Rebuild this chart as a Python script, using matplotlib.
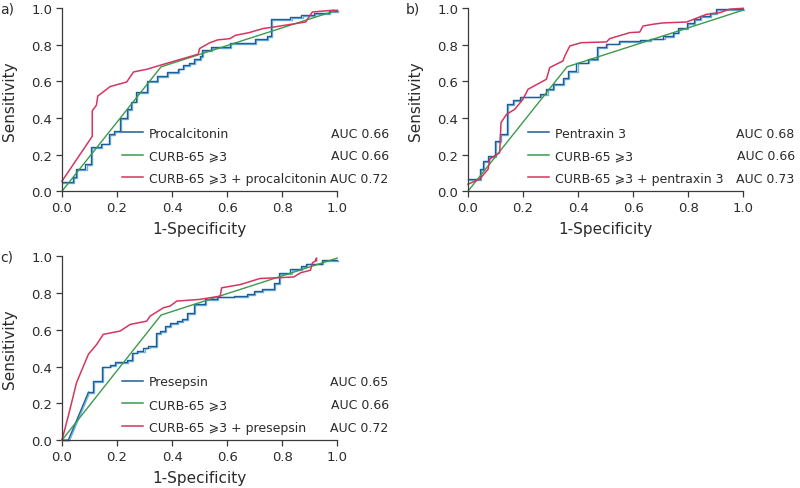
import matplotlib
matplotlib.use("Agg")
import matplotlib.pyplot as plt
import matplotlib.transforms as mtransforms

plt.rcParams["font.family"] = ["DejaVu Sans"]

# CURB-65 >=3 (binary, same in all panels)
curb_x = [0.0, 0.36, 1.0]
curb_y = [0.0, 0.68, 0.99]

# a) procalcitonin
pct_x = [0, 0.04, 0.05, 0.085, 0.105, 0.14, 0.17, 0.19, 0.21, 0.235, 0.25, 0.27,
         0.31, 0.345, 0.38, 0.42, 0.44, 0.46, 0.48, 0.50, 0.51, 0.54, 0.61, 0.70,
         0.745, 0.76, 0.83, 0.87, 0.915, 0.97, 1.0]
pct_y = [0.05, 0.075, 0.12, 0.15, 0.24, 0.26, 0.31, 0.33, 0.40, 0.45, 0.49, 0.54,
         0.60, 0.63, 0.65, 0.67, 0.69, 0.70, 0.72, 0.74, 0.77, 0.79, 0.81, 0.83,
         0.85, 0.94, 0.95, 0.965, 0.975, 0.985, 0.99]
pct_comb_x = [0, 0.11, 0.11, 0.125, 0.13, 0.175, 0.235, 0.26, 0.31, 0.36, 0.495,
              0.50, 0.535, 0.565, 0.61, 0.63, 0.68, 0.73, 0.78, 0.885, 0.91, 0.99, 1.0]
pct_comb_y = [0.055, 0.30, 0.44, 0.47, 0.52, 0.572, 0.597, 0.652, 0.667, 0.69, 0.749,
              0.78, 0.81, 0.827, 0.834, 0.852, 0.867, 0.889, 0.90, 0.925, 0.98, 0.99, 0.985]

# b) pentraxin 3
ptx_x = [0, 0.042, 0.055, 0.073, 0.097, 0.115, 0.14, 0.164, 0.188, 0.26, 0.285,
         0.31, 0.345, 0.364, 0.394, 0.436, 0.467, 0.50, 0.55, 0.625, 0.66, 0.71,
         0.745, 0.763, 0.794, 0.82, 0.842, 0.88, 0.90, 1.0]
ptx_y = [0.066, 0.12, 0.166, 0.19, 0.275, 0.31, 0.475, 0.50, 0.517, 0.53, 0.557,
         0.585, 0.62, 0.657, 0.703, 0.72, 0.79, 0.807, 0.82, 0.825, 0.834, 0.85,
         0.867, 0.894, 0.92, 0.94, 0.958, 0.976, 0.995, 0.995]
ptx_comb_x = [0, 0.042, 0.073, 0.079, 0.103, 0.115, 0.12, 0.14, 0.17, 0.20, 0.218,
              0.285, 0.297, 0.345, 0.352, 0.37, 0.412, 0.503, 0.515, 0.588, 0.624,
              0.636, 0.673, 0.709, 0.794, 0.82, 0.867, 0.915, 0.95, 1.0]
ptx_comb_y = [0.038, 0.066, 0.12, 0.175, 0.20, 0.21, 0.375, 0.42, 0.448, 0.503, 0.557,
              0.612, 0.676, 0.712, 0.74, 0.794, 0.812, 0.816, 0.834, 0.867, 0.87,
              0.903, 0.913, 0.92, 0.925, 0.94, 0.967, 0.976, 0.995, 1.0]

# c) presepsin (first part is a slanted run, then steps)
pre_head_x = [0, 0.023, 0.096]
pre_head_y = [0, 0.0, 0.26]
pre_x = [0.096, 0.114, 0.144, 0.175, 0.193, 0.235, 0.254, 0.272, 0.296,
         0.314, 0.34, 0.357, 0.375, 0.393, 0.417, 0.436, 0.454, 0.478, 0.52, 0.563,
         0.624, 0.672, 0.697, 0.727, 0.77, 0.788, 0.83, 0.867, 0.885, 0.945, 1.0]
pre_y = [0.26, 0.32, 0.40, 0.41, 0.425, 0.434, 0.476, 0.485, 0.503,
         0.512, 0.584, 0.593, 0.62, 0.638, 0.647, 0.656, 0.69, 0.738, 0.765, 0.78,
         0.783, 0.792, 0.81, 0.823, 0.855, 0.91, 0.928, 0.946, 0.96, 0.978, 0.978]
pre_comb_x = [0, 0.023, 0.053, 0.096, 0.126, 0.15, 0.211, 0.248, 0.308, 0.32, 0.369,
              0.393, 0.417, 0.50, 0.575, 0.58, 0.648, 0.72, 0.77, 0.842, 0.867,
              0.903, 0.91, 0.92, 0.925, 0.925]
pre_comb_y = [0, 0.132, 0.313, 0.467, 0.52, 0.575, 0.593, 0.629, 0.647, 0.674, 0.72,
              0.729, 0.756, 0.765, 0.783, 0.828, 0.846, 0.879, 0.882, 0.887, 0.91,
              0.924, 0.964, 0.973, 0.99, 0.975]

panels = [
    ("a)", None, pct_x, pct_y, pct_comb_x, pct_comb_y,
     ["Procalcitonin", "CURB-65 \u2a7e3", "CURB-65 \u2a7e3 + procalcitonin"],
     ["AUC 0.66", "AUC 0.66", "AUC 0.72"]),
    ("b)", None, ptx_x, ptx_y, ptx_comb_x, ptx_comb_y,
     ["Pentraxin 3", "CURB-65 \u2a7e3", "CURB-65 \u2a7e3 + pentraxin 3"],
     ["AUC 0.68", "AUC 0.66", "AUC 0.73"]),
    ("c)", (pre_head_x, pre_head_y), pre_x, pre_y, pre_comb_x, pre_comb_y,
     ["Presepsin", "CURB-65 \u2a7e3", "CURB-65 \u2a7e3 + presepsin"],
     ["AUC 0.65", "AUC 0.66", "AUC 0.72"]),
]

BLUE = "#1f5d96"
LIGHT_BLUE = "#6fb3de"
GREEN = "#3c9a4c"
RED = "#d4365f"
TXT = "#2b2b2b"

fig = plt.figure(figsize=(8, 4.89), dpi=100)
rects = [
    [0.0775, 0.607, 0.344, 0.374],
    [0.585, 0.607, 0.344, 0.374],
    [0.0775, 0.098, 0.344, 0.376],
]

for rect, (tag, head, bx, by, rx, ry, labels, aucs) in zip(rects, panels):
    ax = fig.add_axes(rect)
    # blue step curve drawn twice (light shadow + dark)
    shift = mtransforms.offset_copy(ax.transData, fig=fig, x=0.8, y=-0.6, units="points")
    if head is not None:
        ax.plot(head[0], head[1], color=LIGHT_BLUE, lw=1.0, transform=shift, clip_on=False)
        ax.plot(head[0], head[1], color=BLUE, lw=1.0, clip_on=False)
    ax.step(bx, by, where="post", color=LIGHT_BLUE, lw=1.0, transform=shift, clip_on=False)
    ax.step(bx, by, where="post", color=BLUE, lw=1.0, clip_on=False)
    ax.plot(curb_x, curb_y, color=GREEN, lw=1.0, clip_on=False)
    ax.plot(rx, ry, color=RED, lw=1.1, clip_on=False)

    ax.set_xlim(0, 1)
    ax.set_ylim(0, 1)
    ax.set_xticks([0, 0.2, 0.4, 0.6, 0.8, 1.0])
    ax.set_yticks([0, 0.2, 0.4, 0.6, 0.8, 1.0])
    ax.set_xticklabels(["0.0", "0.2", "0.4", "0.6", "0.8", "1.0"])
    ax.set_yticklabels(["0.0", "0.2", "0.4", "0.6", "0.8", "1.0"])
    ax.spines["top"].set_visible(False)
    ax.spines["right"].set_visible(False)
    for s in ["left", "bottom"]:
        ax.spines[s].set_color("#3a3a3a")
        ax.spines[s].set_linewidth(0.9)
    ax.tick_params(direction="out", length=4, width=0.9, color="#3a3a3a",
                   labelsize=9.5, labelcolor=TXT, pad=3)
    ax.set_xlabel("1-Specificity", fontsize=11, color=TXT, labelpad=5)
    ax.set_ylabel("Sensitivity", fontsize=11, color=TXT, labelpad=10)
    ax.text(-0.225, 1.0, tag, transform=ax.transAxes, fontsize=10, color=TXT,
            ha="left", va="center")

    # legend
    for i, (lab, auc, col) in enumerate(zip(labels, aucs, [BLUE, GREEN, RED])):
        yy = 0.322 - i * 0.123
        ax.plot([0.218, 0.296], [yy, yy], color=col, lw=1.1, transform=ax.transAxes,
                clip_on=False)
        ax.text(0.315, yy - 0.025, lab, transform=ax.transAxes, fontsize=9, color=TXT,
                ha="left", va="baseline")
        ax.text(1.187, yy - 0.025, auc, transform=ax.transAxes, fontsize=9, color=TXT,
                ha="right", va="baseline")

fig.savefig("out.png", dpi=100)
